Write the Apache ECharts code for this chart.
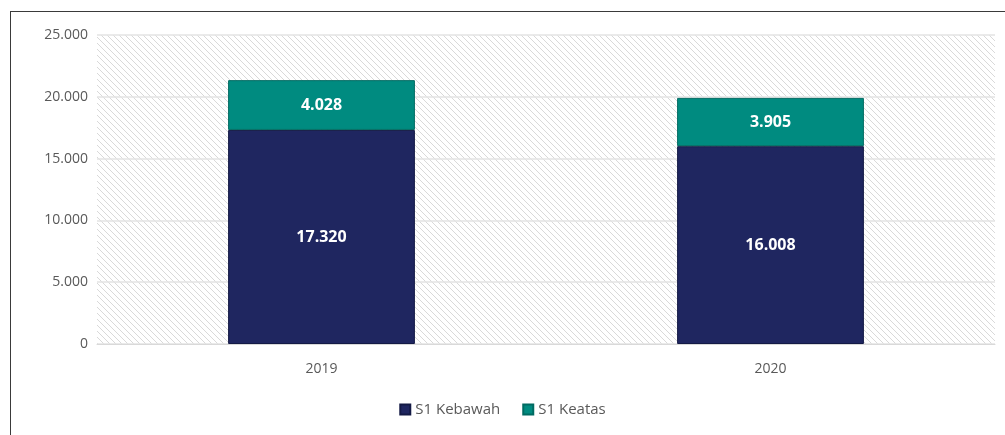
<!DOCTYPE html>
<html>
<head>
<meta charset="utf-8">
<script src="https://cdn.jsdelivr.net/npm/echarts@6/dist/echarts.min.js"></script>
<style>
  html, body { margin: 0; padding: 0; background: #fff; }
  #frame { position: absolute; left: 10px; top: 11px; width: 995px; height: 424px;
           border-left: 1.5px solid #3a3a3a; border-top: 1.5px solid #3a3a3a; box-sizing: border-box; }
  #chart { position: absolute; left: 0; top: 0; width: 1005px; height: 435px; }
</style>
</head>
<body>
<div id="frame"></div>
<div id="chart"></div>
<script>
// data
var years = ["2019", "2020"];
var s1Kebawah = [17320, 16008];
var s1Keatas = [4028, 3905];
var yTicks = [0, 5000, 10000, 15000, 20000, 25000];

// 1.234 style numbers
function fmt(v) {
    return String(v).replace(/\B(?=(\d{3})+(?!\d))/g, ".");
}

// diagonal hatch for the plot background
function hatch() {
    var c = document.createElement("canvas");
    c.width = 6; c.height = 6;
    var g = c.getContext("2d");
    g.strokeStyle = "#d9d9d9";
    g.lineWidth = 1;
    g.beginPath();
    g.moveTo(-1, -1); g.lineTo(7, 7);
    g.moveTo(-1, 5); g.lineTo(1, 7);
    g.moveTo(5, -1); g.lineTo(7, 1);
    g.stroke();
    return c;
}

var chart = echarts.init(document.getElementById("chart"));
chart.setOption({
    animation: false,
    grid: {
        left: 97, right: 10, top: 35, bottom: 91,
        show: true,
        borderWidth: 0,
        backgroundColor: { image: hatch(), repeat: "repeat" }
    },
    legend: {
        data: ["S1 Kebawah", "S1 Keatas"],
        bottom: 13,
        left: "center",
        itemWidth: 10,
        itemHeight: 10,
        itemGap: 22,
        icon: "rect",
        textStyle: { color: "#595959", fontSize: 15, fontFamily: "Open Sans" }
    },
    xAxis: {
        type: "category",
        data: years,
        axisLine: { show: true, lineStyle: { color: "#d9d9d9" } },
        axisTick: { show: false },
        axisLabel: { color: "#595959", fontSize: 14, margin: 18, fontFamily: "Open Sans" }
    },
    yAxis: {
        type: "value",
        min: yTicks[0],
        max: yTicks[yTicks.length - 1],
        interval: 5000,
        axisLine: { show: false },
        axisTick: { show: false },
        splitLine: { lineStyle: { color: "#e3e3e3", width: 1.5 } },
        axisLabel: {
            color: "#595959", fontSize: 14, margin: 9, fontFamily: "Open Sans",
            formatter: function (v) { return fmt(v); }
        }
    },
    series: [
        {
            name: "S1 Kebawah",
            type: "bar",
            stack: "total",
            barWidth: "41.6%",
            data: s1Kebawah,
            itemStyle: { color: "#1f2660", borderColor: "#141a45", borderWidth: 1 },
            label: {
                show: true, position: "inside", color: "#fff", fontWeight: "bold",
                fontSize: 16, fontFamily: "Open Sans",
                formatter: function (p) { return fmt(p.value); }
            }
        },
        {
            name: "S1 Keatas",
            type: "bar",
            stack: "total",
            data: s1Keatas,
            itemStyle: { color: "#008b80", borderColor: "#006b62", borderWidth: 1 },
            label: {
                show: true, position: "inside", color: "#fff", fontWeight: "bold",
                fontSize: 16, fontFamily: "Open Sans",
                formatter: function (p) { return fmt(p.value); }
            }
        }
    ]
});
</script>
</body>
</html>
